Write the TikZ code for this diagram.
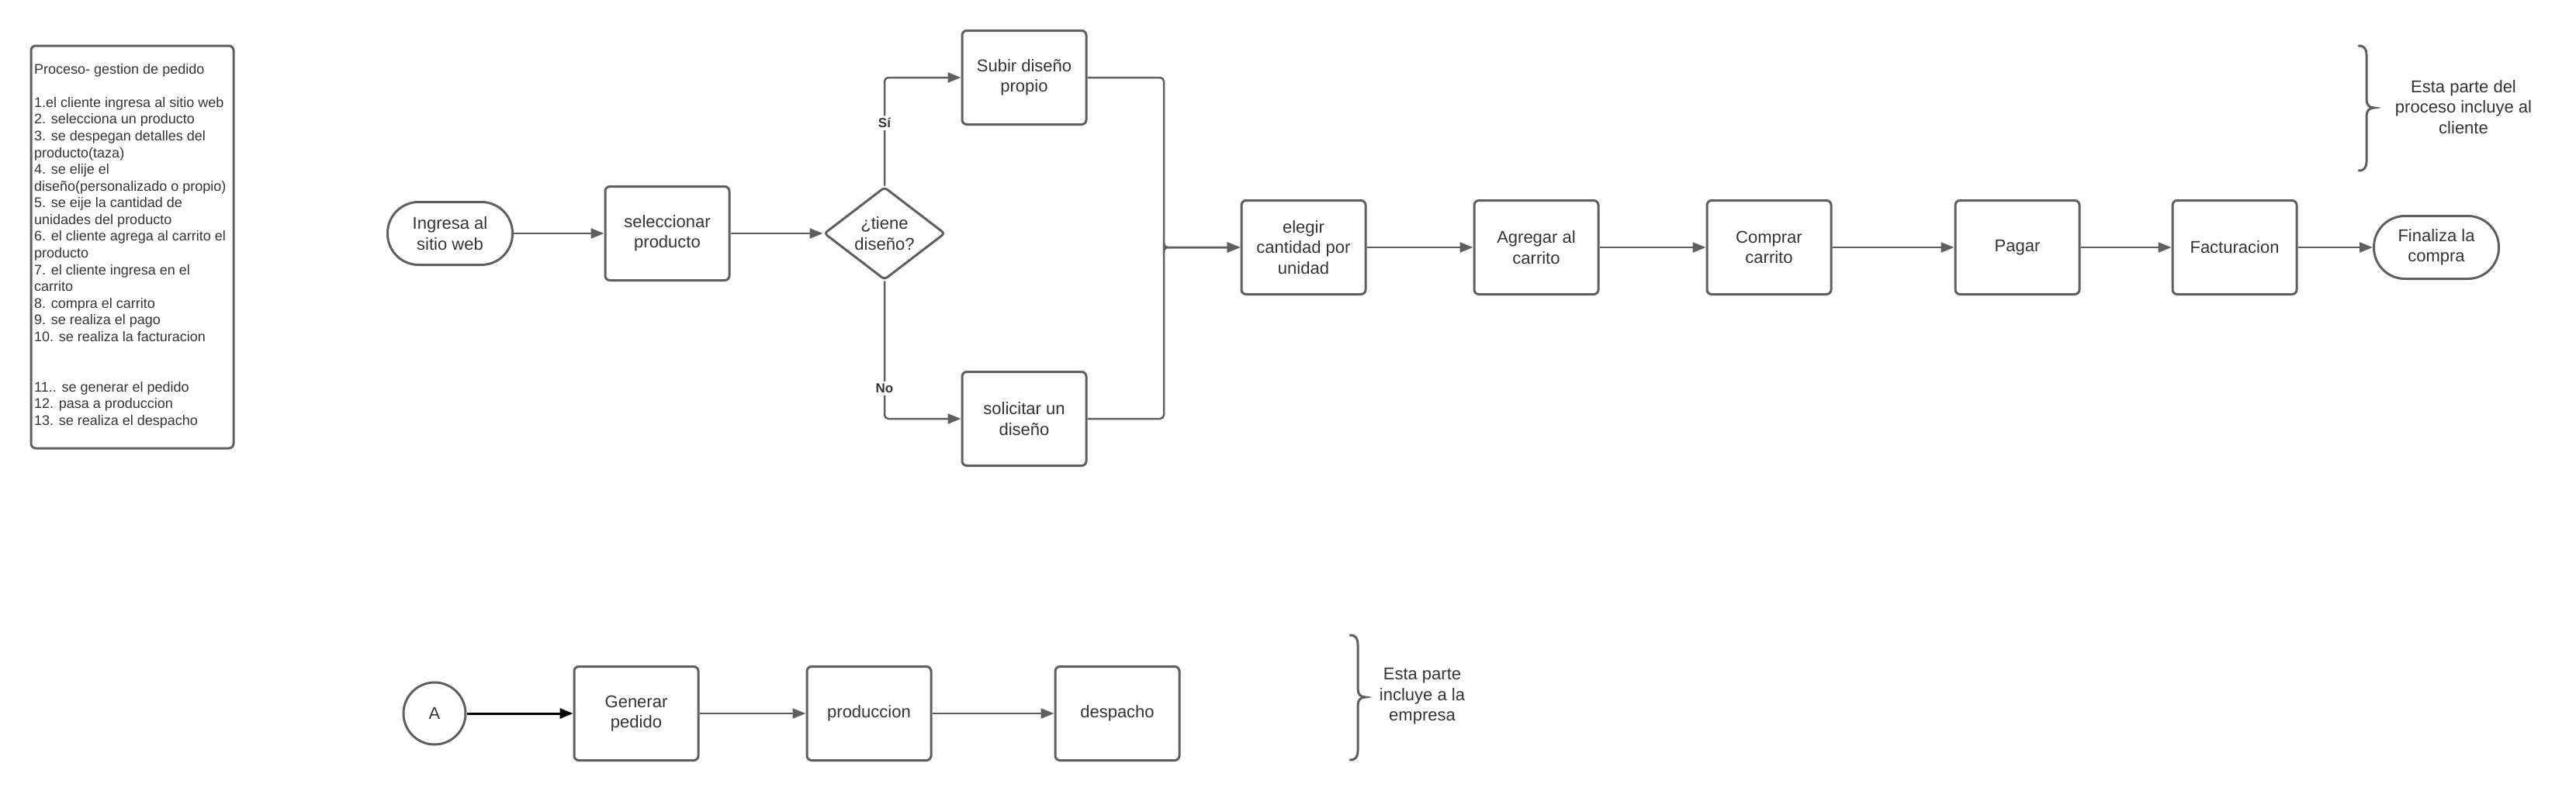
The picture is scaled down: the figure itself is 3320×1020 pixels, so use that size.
\documentclass[tikz,border=0pt]{standalone}
\usepackage{fontspec}
\setmainfont{Liberation Sans}
\usetikzlibrary{shapes.geometric,arrows.meta}
\definecolor{edge}{HTML}{5F5F5F}
\definecolor{txt}{HTML}{333333}
\begin{document}
\begin{tikzpicture}[x=1pt,y=-1pt,
 mainfont/.style={font=\fontsize{22}{26.5}\selectfont},
 box/.style={draw=edge, line width=3pt, rounded corners=6pt, minimum width=160pt, minimum height=121pt, inner sep=4pt, align=center, text=txt, mainfont},
 term/.style={box, rounded corners=40pt, minimum width=161pt, minimum height=81pt},
 dec/.style={draw=edge, line width=3pt, diamond, rounded corners=4pt, minimum width=156pt, minimum height=118pt, inner sep=0pt, align=center, text=txt, mainfont},
 circ/.style={draw=edge, line width=3pt, circle, minimum size=80pt, inner sep=0pt, text=txt, mainfont},
 conn/.style={draw=edge, line width=2.5pt, -{Triangle[length=17pt,width=13pt]}, rounded corners=5pt},
 blackconn/.style={draw=black, line width=3pt, -{Triangle[length=17pt,width=13pt]}},
 lbl/.style={text=txt, font=\bfseries\fontsize{17}{20}\selectfont, fill=white, inner sep=3pt},
 note/.style={text=txt, align=center, mainfont},
 bracepath/.style={draw=edge, line width=3pt, line cap=round}
]
\useasboundingbox (0,0) rectangle (3320,1020);

% description box
\node[draw=edge, line width=3pt, rounded corners=6pt, minimum width=261pt, minimum height=519pt, inner sep=0pt] (listbox) at (170.5,318.5) {};
\node[anchor=north west, inner sep=3pt, align=left, text=txt, font=\fontsize{18}{21.57}\selectfont] (listtext) at (41,79) {Proceso- gestion de pedido\\[21.57pt]
1.el cliente ingresa al sitio web\\
2. selecciona un producto\\
3. se despegan detalles del\\
producto(taza)\\
4. se elije el\\
diseño(personalizado o propio)\\
5. se eije la cantidad de\\
unidades del producto\\
6. el cliente agrega al carrito el\\
producto\\
7. el cliente ingresa en el\\
carrito\\
8. compra el carrito\\
9. se realiza el pago\\
10. se realiza la facturacion\\[43.14pt]
11.. se generar el pedido\\
12. pasa a produccion\\
13. se realiza el despacho};

% top flow
\node[term] (ingresa) at (580,301) {Ingresa al\\sitio web};
\node[box] (selec) at (860,301) {seleccionar\\producto};
\node[dec] (tiene) at (1140,301) {¿tiene\\diseño?};
\node[box] (subir) at (1320,100) {Subir diseño\\propio};
\node[box] (solic) at (1320,540) {solicitar un\\diseño};
\node[box] (elegir) at (1680,319) {elegir\\cantidad por\\unidad};
\node[box] (agregar) at (1980,319) {Agregar al\\carrito};
\node[box] (comprar) at (2280,319) {Comprar\\carrito};
\node[box] (pagar) at (2600,319) {Pagar};
\node[box] (fact) at (2880,319) {Facturacion};
\node[term] (final) at (3140,319) {Finaliza la\\compra};

\coordinate (mergeTop) at (1500,100);
\coordinate (mergeBot) at (1500,540);
\coordinate (mergeMid) at (1500,319);

\draw[conn] (ingresa.east) -- (selec.west);
\draw[conn] (selec.east) -- (tiene.west);
\draw[conn] (tiene.north) |- (subir.west) node[lbl, pos=0.29] {Sí};
\draw[conn] (tiene.south) |- (solic.west) node[lbl, pos=0.39] {No};
\draw[conn] (subir.east) -- (mergeTop) -- ([yshift=-3pt]mergeMid) -- (mergeMid) -- (elegir.west);
\draw[conn] (solic.east) -- (mergeBot) -- ([yshift=3pt]mergeMid) -- (mergeMid) -- (elegir.west);
\draw[conn] (elegir.east) -- (agregar.west);
\draw[conn] (agregar.east) -- (comprar.west);
\draw[conn] (comprar.east) -- (pagar.west);
\draw[conn] (pagar.east) -- (fact.west);
\draw[conn] (fact.east) -- (final.west);

% top brace and note
\coordinate (b1top) at (3040,59);
\coordinate (b1bot) at (3040,220);
\draw[bracepath] (b1top) .. controls (3047,59) and (3050,63) .. (3050,71) -- (3050,128) .. controls (3050,135) and (3053,139) .. (3060,139) .. controls (3053,139) and (3050,143) .. (3050,150) -- (3050,208) .. controls (3050,216) and (3047,220) .. (b1bot);
\node[note] (note1) at (3175,138) {Esta parte del\\proceso incluye al\\cliente};

% bottom flow
\node[circ] (A) at (560,920) {A};
\node[box] (generar) at (820,920) {Generar\\pedido};
\node[box] (produc) at (1120,920) {produccion};
\node[box] (despacho) at (1440,920) {despacho};
\draw[blackconn] (A.east) -- (generar.west);
\draw[conn] (generar.east) -- (produc.west);
\draw[conn] (produc.east) -- (despacho.west);

% bottom brace and note
\coordinate (b2top) at (1740,819);
\coordinate (b2bot) at (1740,980);
\draw[bracepath] (b2top) .. controls (1747,819) and (1750,823) .. (1750,831) -- (1750,888) .. controls (1750,895) and (1753,899) .. (1760,899) .. controls (1753,899) and (1750,903) .. (1750,910) -- (1750,968) .. controls (1750,976) and (1747,980) .. (b2bot);
\node[note] (note2) at (1833,898) {Esta parte\\incluye a la\\empresa};
\end{tikzpicture}
\end{document}
